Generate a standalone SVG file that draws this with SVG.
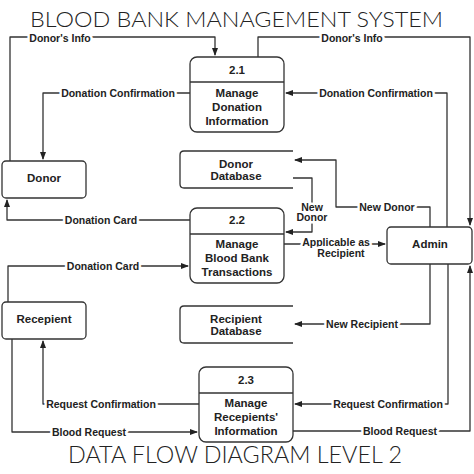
<svg xmlns="http://www.w3.org/2000/svg" width="474" height="474" viewBox="0 0 474 474">
<defs>
<marker id="ah" markerWidth="8" markerHeight="6" refX="7" refY="3" orient="auto" markerUnits="userSpaceOnUse">
<path d="M0,0 L8,3 L0,6 Z" fill="#222"/>
</marker>
<style>
.box{fill:#fff;stroke:#333;stroke-width:1.3}
.store{fill:none;stroke:#333;stroke-width:1.3}
.ln{fill:none;stroke:#333;stroke-width:1.3;stroke-linejoin:round}
.arr{marker-end:url(#ah)}
.nt{font-family:"Liberation Sans",Arial,sans-serif;font-weight:bold;font-size:11.5px;fill:#222;text-anchor:middle;dominant-baseline:central}
.lb{font-family:"Liberation Sans",Arial,sans-serif;font-weight:bold;font-size:10.5px;fill:#222;text-anchor:middle;dominant-baseline:central;paint-order:stroke;stroke:#fff;stroke-width:5px;stroke-linejoin:round}
.title{font-family:Lato,"Open Sans","Liberation Sans",sans-serif;font-weight:300;fill:#222;text-anchor:middle}
</style>
</defs>
<rect width="474" height="474" fill="#fff"/>
<text class="title" x="236.5" y="27" font-size="22" textLength="413" lengthAdjust="spacingAndGlyphs">BLOOD BANK MANAGEMENT SYSTEM</text>
<text class="title" x="235" y="463" font-size="23" textLength="334" lengthAdjust="spacingAndGlyphs">DATA FLOW DIAGRAM LEVEL 2</text>

<g id="connectors">
<path class="ln arr" d="M10,161 V37 H215 V55"/>
<path class="ln arr" d="M258,57 V37 H470 V225"/>
<path class="ln arr" d="M190,93 H43 V159"/>
<path class="ln arr" d="M447,227 V93 H286"/>
<path class="ln arr" d="M430,227 V207 H336 V160 H295"/>
<path class="ln arr" d="M293,178 H312 V232 H286"/>
<path class="ln arr" d="M190,220 H7 V200"/>
<path class="ln arr" d="M284,244 H385"/>
<path class="ln arr" d="M8,302 V266 H188"/>
<path class="ln arr" d="M430,264 V324 H295"/>
<path class="ln arr" d="M448,264 V404 H295"/>
<path class="ln arr" d="M199,404 H43 V341"/>
<path class="ln arr" d="M12,339 V432 H197"/>
<path class="ln arr" d="M293,431 H470 V266"/>

<text class="lb" x="60" y="37.5">Donor's Info</text>
<text class="lb" x="352" y="37.5">Donor's Info</text>
<text class="lb" x="118" y="93">Donation Confirmation</text>
<text class="lb" x="376" y="93">Donation Confirmation</text>
<text class="lb" x="387" y="207">New Donor</text>
<text class="lb" x="312" y="206.5">New</text>
<text class="lb" x="312" y="217">Donor</text>
<text class="lb" x="336" y="241.5">Applicable as</text>
<text class="lb" x="341" y="252.5">Recipient</text>
<text class="lb" x="103" y="266">Donation Card</text>
<text class="lb" x="101" y="220">Donation Card</text>
<text class="lb" x="362" y="324">New Recipient</text>
<text class="lb" x="388" y="404">Request Confirmation</text>
<text class="lb" x="101" y="404">Request Confirmation</text>
<text class="lb" x="89" y="432">Blood Request</text>
<text class="lb" x="400" y="431">Blood Request</text>
</g>

<g id="p21">
<rect class="box" x="190" y="57" width="94" height="75" rx="7"/>
<line class="ln" x1="190" y1="82" x2="284" y2="82"/>
<text class="nt" x="237" y="70">2.1</text>
<text class="nt" x="237" y="93">Manage</text>
<text class="nt" x="237" y="107">Donation</text>
<text class="nt" x="237" y="121">Information</text>
</g>
<g id="p22">
<rect class="box" x="190" y="208" width="94" height="75" rx="7"/>
<line class="ln" x1="190" y1="234" x2="284" y2="234"/>
<text class="nt" x="237" y="220">2.2</text>
<text class="nt" x="237" y="244">Manage</text>
<text class="nt" x="237" y="258">Blood Bank</text>
<text class="nt" x="237" y="272">Transactions</text>
</g>
<g id="p23">
<rect class="box" x="199" y="367" width="94" height="75" rx="7"/>
<line class="ln" x1="199" y1="393" x2="293" y2="393"/>
<text class="nt" x="246" y="380">2.3</text>
<text class="nt" x="246" y="403">Manage</text>
<text class="nt" x="246" y="417">Recepients'</text>
<text class="nt" x="246" y="431">Information</text>
</g>
<g id="donor">
<rect class="box" x="2" y="161" width="84" height="37" rx="4"/>
<text class="nt" x="44" y="178">Donor</text>
</g>
<g id="admin">
<rect class="box" x="387" y="227" width="85" height="37" rx="4"/>
<text class="nt" x="430" y="244">Admin</text>
</g>
<g id="recepient">
<rect class="box" x="2" y="302" width="84" height="37" rx="4"/>
<text class="nt" x="44" y="319">Recepient</text>
</g>
<g id="donordb">
<path class="store" d="M293,151 H184 Q180,151 180,155 V184 Q180,188 184,188 H293"/>
<text class="nt" x="236" y="164">Donor</text>
<text class="nt" x="236" y="176">Database</text>
</g>
<g id="recipientdb">
<path class="store" d="M293,306 H184 Q180,306 180,310 V339 Q180,343 184,343 H293"/>
<text class="nt" x="236" y="319">Recipient</text>
<text class="nt" x="236" y="331">Database</text>
</g>
</svg>
